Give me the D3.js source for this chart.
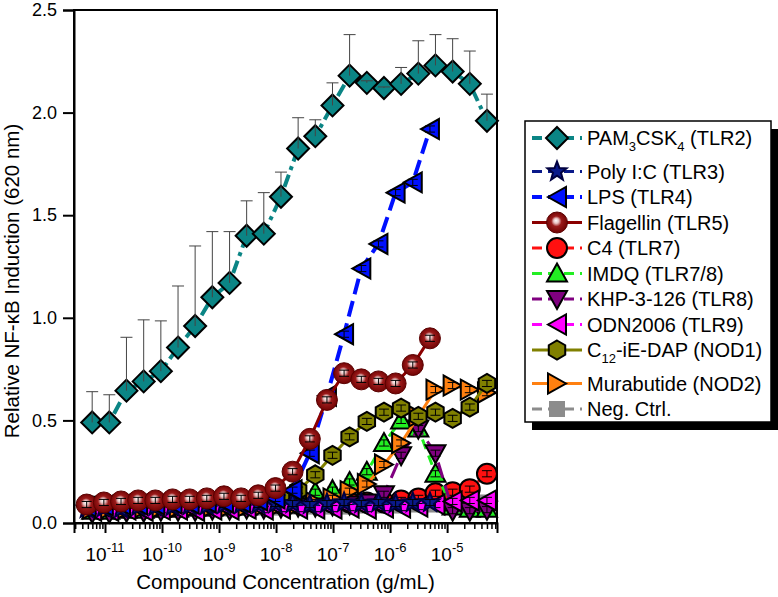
<!DOCTYPE html>
<html><head><meta charset="utf-8">
<script src="https://cdn.jsdelivr.net/npm/d3@7"></script>
<style>body{margin:0;background:#fff}svg{display:block;font-family:"Liberation Sans",Arial,sans-serif}</style>
</head><body><svg id="c" width="778" height="597"></svg>
<script>
// ---------- data ----------
const concA = [5.96e-12,1.19e-11,2.38e-11,4.77e-11,9.54e-11,1.91e-10,3.81e-10,7.63e-10,1.53e-9,3.05e-9,6.10e-9,1.22e-8,2.44e-8,4.88e-8,9.77e-8,1.95e-7,3.91e-7,7.81e-7,1.56e-6,3.13e-6,6.25e-6,1.25e-5,2.5e-5,5e-5];
const concB = [4.77e-12,9.54e-12,1.91e-11,3.81e-11,7.63e-11,1.53e-10,3.05e-10,6.10e-10,1.22e-9,2.44e-9,4.88e-9,9.77e-9,1.95e-8,3.91e-8,7.81e-8,1.56e-7,3.13e-7,6.25e-7,1.25e-6,2.5e-6,5e-6];

const pam = [0.49,0.49,0.645,0.69,0.74,0.855,0.96,1.10,1.17,1.40,1.41,1.59,1.825,1.885,2.035,2.18,2.145,2.12,2.14,2.19,2.23,2.20,2.14,1.96];
const pamErr = [0.15,0.135,0.26,0.30,0.245,0.30,0.39,0.32,0.25,0.17,0.20,0.12,0.15,0.08,0.11,0.20,0.01,0.005,0.08,0.16,0.15,0.16,0.16,0.13];
const polyIC = [0.07,0.075,0.07,0.08,0.08,0.08,0.085,0.085,0.09,0.09,0.09,0.095,0.095,0.09,0.095,0.10,0.095,0.10,0.095,0.10,0.10];
const lps = [0.08,0.085,0.09,0.09,0.09,0.095,0.095,0.10,0.10,0.10,0.11,0.12,0.16,0.34,0.62,0.92,1.24,1.36,1.61,1.66,1.92];
const flagellin = [0.09,0.10,0.105,0.11,0.11,0.115,0.115,0.12,0.13,0.12,0.135,0.17,0.25,0.41,0.60,0.73,0.70,0.69,0.68,0.77,0.90];
const c4 = [0.08,0.08,0.08,0.085,0.085,0.085,0.09,0.09,0.09,0.09,0.095,0.095,0.095,0.10,0.10,0.10,0.10,0.10,0.11,0.12,0.145,0.15,0.165,0.24];
const imdq = [0.06,0.06,0.065,0.065,0.07,0.07,0.075,0.075,0.08,0.08,0.09,0.10,0.12,0.15,0.16,0.20,0.25,0.39,0.50,0.46,0.24,0.08,0.07,0.07];
const khp = [0.05,0.05,0.055,0.055,0.06,0.06,0.06,0.065,0.065,0.07,0.07,0.075,0.08,0.08,0.085,0.09,0.10,0.14,0.33,0.46,0.34,0.06,0.06,0.065];
const odn = [0.06,0.06,0.065,0.06,0.065,0.065,0.06,0.065,0.065,0.07,0.065,0.07,0.07,0.07,0.07,0.075,0.07,0.075,0.075,0.08,0.09,0.105,0.11,0.11];
const c12 = [0.08,0.08,0.08,0.085,0.085,0.085,0.09,0.09,0.09,0.095,0.10,0.12,0.16,0.235,0.33,0.42,0.495,0.54,0.56,0.52,0.54,0.51,0.565,0.68];
const murabutide = [0.07,0.07,0.07,0.075,0.075,0.075,0.08,0.08,0.08,0.08,0.085,0.09,0.09,0.10,0.12,0.155,0.19,0.285,0.39,0.52,0.65,0.67,0.65,0.635];
const negCtrl = [0.06,0.06,0.065,0.065,0.065,0.07,0.07,0.07,0.07,0.075,0.075,0.075,0.08,0.08,0.08,0.08,0.085,0.085,0.085,0.09,0.09,0.10,0.10,0.10];
const smallErr = 0.015;

const yTicks = [0,0.5,1.0,1.5,2.0,2.5];
const xMajor = [1e-11,1e-10,1e-9,1e-8,1e-7,1e-6,1e-5];
const xLabels = ["-11","-10","-9","-8","-7","-6","-5"];
const xDomain = [2.86e-12, 7.5e-5];
const yDomain = [0, 2.5];

// legend labels: [text, isSubscript]
const labelPAM = [["PAM",0],["3",1],["CSK",0],["4",1],[" (TLR2)",0]];
const labelPoly = [["Poly I:C (TLR3)",0]];
const labelLPS = [["LPS (TLR4)",0]];
const labelFlag = [["Flagellin (TLR5)",0]];
const labelC4 = [["C4 (TLR7)",0]];
const labelIMDQ = [["IMDQ (TLR7/8)",0]];
const labelKHP = [["KHP-3-126 (TLR8)",0]];
const labelODN = [["ODN2006 (TLR9)",0]];
const labelC12 = [["C",0],["12",1],["-iE-DAP (NOD1)",0]];
const labelMura = [["Murabutide (NOD2)",0]];
const labelNeg = [["Neg. Ctrl.",0]];

// ---------- series styling ----------
const series = [
 {id:"pam", label:labelPAM, conc:concA, vals:pam, err:pamErr, color:"#0b8585", dash:"13,5,4,5", lw:4, sym:"diamond", fill:"#0b8585", stroke:"#000"},
 {id:"poly", label:labelPoly, conc:concB, vals:polyIC, color:"#0a1a8a", dash:"9,5", lw:3, sym:"star", fill:"#0a1a8a", stroke:"#000040"},
 {id:"lps", label:labelLPS, conc:concB, vals:lps, color:"#0010ff", dash:"16,7", lw:4, sym:"left", fill:"#0010ff", stroke:"#000"},
 {id:"flag", label:labelFlag, conc:concB, vals:flagellin, color:"#8b0000", dash:null, lw:3, sym:"ball", fill:"url(#ballGrad)", stroke:"#5a0000"},
 {id:"c4", label:labelC4, conc:concA, vals:c4, color:"#ff1010", dash:"9,6", lw:3, sym:"circle", fill:"#ff1010", stroke:"#000"},
 {id:"imdq", label:labelIMDQ, conc:concA, vals:imdq, color:"#22ee22", dash:"10,7", lw:3, sym:"up", fill:"#22ee22", stroke:"#000"},
 {id:"khp", label:labelKHP, conc:concA, vals:khp, color:"#800080", dash:"16,8", lw:3, sym:"down", fill:"#800080", stroke:"#000"},
 {id:"odn", label:labelODN, conc:concA, vals:odn, color:"#ff00ff", dash:"9,6", lw:3, sym:"left", fill:"#ff00ff", stroke:"#000"},
 {id:"c12", label:labelC12, conc:concA, vals:c12, color:"#808000", dash:null, lw:3, sym:"hex", fill:"#808000", stroke:"#000"},
 {id:"mura", label:labelMura, conc:concA, vals:murabutide, color:"#ff8010", dash:null, lw:3, sym:"right", fill:"#ff8010", stroke:"#000"},
 {id:"neg", label:labelNeg, conc:concA, vals:negCtrl, color:"#8c8c8c", dash:"9,6", lw:3, sym:"square", fill:"#8c8c8c", stroke:"none"}
];
const drawOrder = ["neg","c4","imdq","khp","mura","c12","odn","poly","lps","flag","pam"];

// ---------- symbols ----------
function symPath(t){
  switch(t){
    case "diamond": return "M0,-11L11,0L0,11L-11,0Z";
    case "left": return "M-9,0L9,-10L9,10Z";
    case "right": return "M9,0L-9,-10L-9,10Z";
    case "up": return "M0,-10L10,8L-10,8Z";
    case "down": return "M0,10L10,-8L-10,-8Z";
    case "square": return "M-8,-8L8,-8L8,8L-8,8Z";
    case "hex": { let p=[]; for(let i=0;i<6;i++){const a=Math.PI/3*i-Math.PI/2; p.push([9.5*Math.cos(a),9.5*Math.sin(a)]);} return "M"+p.map(d=>d[0].toFixed(2)+","+d[1].toFixed(2)).join("L")+"Z"; }
    case "star": { let p=[]; for(let i=0;i<10;i++){const r=i%2?4.2:10; const a=Math.PI/5*i-Math.PI/2; p.push([r*Math.cos(a),r*Math.sin(a)]);} return "M"+p.map(d=>d[0].toFixed(2)+","+d[1].toFixed(2)).join("L")+"Z"; }
  }
  return null;
}
function drawSymbol(g, s, cx, cy){
  if(s.sym==="ball" || s.sym==="circle"){
    g.append("circle").attr("cx",cx).attr("cy",cy).attr("r", s.sym==="ball"?10.5:10)
      .attr("fill",s.fill).attr("stroke",s.stroke).attr("stroke-width", s.sym==="ball"?1:2);
  } else {
    g.append("path").attr("d",symPath(s.sym)).attr("transform",`translate(${cx},${cy})`)
      .attr("fill",s.fill).attr("stroke",s.stroke).attr("stroke-width",2).attr("stroke-linejoin","miter");
  }
}

// ---------- chart ----------
const svg = d3.select("#c");
const defs = svg.append("defs");
const rg = defs.append("radialGradient").attr("id","ballGrad").attr("cx","0.5").attr("cy","0.5").attr("r","0.55").attr("fx","0.45").attr("fy","0.4");
rg.append("stop").attr("offset","0").attr("stop-color","#ffffff");
rg.append("stop").attr("offset","0.22").attr("stop-color","#e8c0c0");
rg.append("stop").attr("offset","0.45").attr("stop-color","#9a1a1a");
rg.append("stop").attr("offset","1").attr("stop-color","#6a0000");

svg.append("rect").attr("width",778).attr("height",597).attr("fill","#fff");

const L=74,R=497,T=10,B=523;
const x = d3.scaleLog().domain(xDomain).range([L,R]);
const y = d3.scaleLinear().domain(yDomain).range([B,T]);

const plot = svg.append("g");
const line = d3.line().x(d=>x(d[0])).y(d=>y(d[1]));

drawOrder.forEach(id=>{
  const s = series.find(d=>d.id===id);
  const pts = s.conc.map((c,i)=>[c,s.vals[i]]);
  const g = plot.append("g");
  g.append("path").attr("d",line(pts)).attr("fill","none").attr("stroke",s.color)
    .attr("stroke-width",s.lw).attr("stroke-dasharray",s.dash||null);
  pts.forEach(p=>drawSymbol(g,s,x(p[0]),y(p[1])));
  pts.forEach((p,i)=>{
    const cx=x(p[0]);
    if(s.err){
      const e=s.err[i], y0=y(p[1]), y1=y(p[1]+e);
      g.append("line").attr("x1",cx).attr("x2",cx).attr("y1",y0).attr("y2",y1).attr("stroke","#444").attr("stroke-width",1);
      g.append("line").attr("x1",cx-6).attr("x2",cx+6).attr("y1",y1).attr("y2",y1).attr("stroke","#444").attr("stroke-width",1);
    } else {
      const y1=y(p[1]+smallErr), y2=y(p[1]-smallErr);
      g.append("line").attr("x1",cx).attr("x2",cx).attr("y1",y1).attr("y2",y2).attr("stroke","#000").attr("stroke-width",1);
      [y1,y2].forEach(yy=>g.append("line").attr("x1",cx-5).attr("x2",cx+5).attr("y1",yy).attr("y2",yy).attr("stroke","#000").attr("stroke-width",1));
    }
  });
});

// frame
svg.append("rect").attr("x",L).attr("y",T).attr("width",R-L).attr("height",B-T).attr("fill","none").attr("stroke","#000").attr("stroke-width",2);

// y axis
const yAxis = svg.append("g").attr("transform",`translate(${L},0)`)
  .call(d3.axisLeft(y).tickValues(yTicks).tickSize(11).tickPadding(6).tickFormat(d3.format(".1f")));
yAxis.select(".domain").attr("stroke-width",2);
yAxis.selectAll(".tick line").attr("stroke-width",2);
yAxis.selectAll("text").attr("font-size",18).attr("font-family","Liberation Sans, Arial").attr("fill","#000");

// x axis major
const xAxis = svg.append("g").attr("transform",`translate(0,${B})`)
  .call(d3.axisBottom(x).tickValues(xMajor).tickSize(10).tickFormat(""));
xAxis.select(".domain").attr("stroke-width",2);
xAxis.selectAll(".tick line").attr("stroke-width",2);
const minor = [];
for(let e=-12;e<=-5;e++){ for(let m=2;m<=9;m++){ const v=m*Math.pow(10,e); if(v>=xDomain[0]&&v<=xDomain[1]) minor.push(v);} }
const xMinor = svg.append("g").attr("transform",`translate(0,${B})`)
  .call(d3.axisBottom(x).tickValues(minor).tickSize(6).tickFormat(""));
xMinor.select(".domain").remove();
xMinor.selectAll(".tick line").attr("stroke-width",1.5);
xMajor.forEach((v,i)=>{
  const t = svg.append("text").attr("x",x(v)).attr("y",561).attr("text-anchor","middle")
    .attr("font-size",19).attr("fill","#000");
  t.append("tspan").text("10");
  t.append("tspan").attr("dy",-9).attr("font-size",13).text(xLabels[i]);
});

// axis titles
svg.append("text").attr("x",(L+R)/2).attr("y",589).attr("text-anchor","middle")
  .attr("font-size",20.5).attr("fill","#000").text("Compound Concentration (g/mL)");
svg.append("text").attr("transform","translate(19,281) rotate(-90)").attr("text-anchor","middle")
  .attr("font-size",20.5).attr("fill","#000").text("Relative NF-κB Induction (620 nm)");

// legend
const lx=525, ly=121, lw=246, lh=301;
svg.append("rect").attr("x",lx+7).attr("y",ly+8).attr("width",lw).attr("height",lh).attr("fill","#000");
svg.append("rect").attr("x",lx).attr("y",ly).attr("width",lw).attr("height",lh).attr("fill","#fff").attr("stroke","#000").attr("stroke-width",1.5);
let yy = 138;
series.forEach((s,i)=>{
  const g = svg.append("g");
  g.append("line").attr("x1",532).attr("x2",582).attr("y1",yy).attr("y2",yy).attr("stroke",s.color)
    .attr("stroke-width",s.lw).attr("stroke-dasharray",s.dash?"10,6":null);
  drawSymbol(g,s,557,yy);
  const t = g.append("text").attr("x",587).attr("y",yy+7).attr("font-size",20).attr("fill","#000");
  let prevSub=false;
  s.label.forEach(([txt,sub])=>{
    const ts = t.append("tspan").text(txt);
    if(sub && !prevSub){ ts.attr("dy",6).attr("font-size",13); }
    else if(!sub && prevSub){ ts.attr("dy",-6); }
    else if(sub) ts.attr("font-size",13);
    prevSub = !!sub;
  });
  const hasSub = s.label.some(d=>d[1]);
  yy += 25.5 + (hasSub?8:0);
});
</script></body></html>
